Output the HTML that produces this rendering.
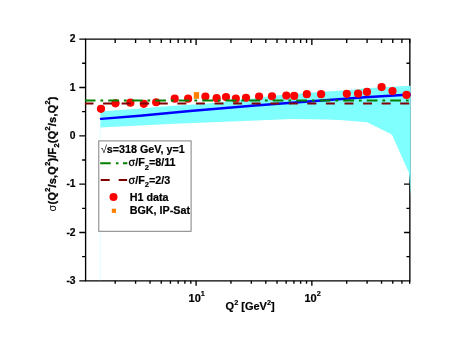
<!DOCTYPE html>
<html><head><meta charset="utf-8"><title>chart</title>
<style>html,body{margin:0;padding:0;background:#fff;}body{width:476px;height:337px;overflow:hidden;}svg{display:block;will-change:transform;}text{font-family:"Liberation Sans",sans-serif;font-weight:bold;fill:#000;stroke:#000;stroke-width:0.2px;}.sym{font-weight:normal;stroke:none;}.sym2{font-weight:normal;stroke:#000;stroke-width:0.3px;}</style>
</head><body>
<svg width="476" height="337" viewBox="0 0 476 337">
<rect x="0" y="0" width="476" height="337" fill="#ffffff"/>
<g stroke="#000" stroke-width="1.35" fill="none" stroke-linecap="butt">
<path d="M84.89999999999999 39.1H410.55M84.89999999999999 280.85H410.55M85.6 39.1V280.85M409.85 39.1V280.85"/>
<path d="M79.30 39.10H85.6M82.10 63.28H85.6M406.45 63.28H409.85M79.30 87.45H85.6M404.05 87.45H409.85M82.10 111.62H85.6M406.45 111.62H409.85M79.30 135.80H85.6M404.05 135.80H409.85M82.10 159.98H85.6M406.45 159.98H409.85M79.30 184.15H85.6M404.05 184.15H409.85M82.10 208.33H85.6M406.45 208.33H409.85M79.30 232.50H85.6M404.05 232.50H409.85M82.10 256.68H85.6M406.45 256.68H409.85M79.30 280.85H85.6M115.19 280.85V283.85M115.19 39.1V42.90M135.58 280.85V283.85M135.58 39.1V42.90M150.04 280.85V283.85M150.04 39.1V42.90M161.26 280.85V283.85M161.26 39.1V42.90M170.42 280.85V283.85M170.42 39.1V42.90M178.17 280.85V283.85M178.17 39.1V42.90M184.88 280.85V283.85M184.88 39.1V42.90M190.80 280.85V283.85M190.80 39.1V42.90M196.10 280.85V285.85M196.10 39.1V44.90M230.94 280.85V283.85M230.94 39.1V42.90M251.33 280.85V283.85M251.33 39.1V42.90M265.79 280.85V283.85M265.79 39.1V42.90M277.01 280.85V283.85M277.01 39.1V42.90M286.17 280.85V283.85M286.17 39.1V42.90M293.92 280.85V283.85M293.92 39.1V42.90M300.63 280.85V283.85M300.63 39.1V42.90M306.55 280.85V283.85M306.55 39.1V42.90M311.85 280.85V285.85M311.85 39.1V44.90M346.69 280.85V283.85M346.69 39.1V42.90M367.08 280.85V283.85M367.08 39.1V42.90M381.54 280.85V283.85M381.54 39.1V42.90M392.76 280.85V283.85M392.76 39.1V42.90M401.92 280.85V283.85M401.92 39.1V42.90M409.67 280.85V283.85M409.67 39.1V42.90"/>
</g>
<defs><clipPath id="c"><rect x="84.89999999999999" y="39.1" width="325.9" height="241.75000000000003"/></clipPath></defs>
<g clip-path="url(#c)">
<line x1="100.4" y1="127" x2="100.4" y2="280.85" stroke="#80ffff" stroke-width="1.3" opacity="0.22"/>
<polygon fill="#80ffff" points="100.4,111.4 140,108.4 170,106.0 190,104.80000000000001 220,102.5 241.3,99.60000000000001 252.5,98.4 265,97.0 278.9,95.2 299.9,93.4 310,92.7 331.3,91.2 355,89.4 365,88.30000000000001 410.8,85.80000000000001 410.8,196.4 409,172.9 391.9,134.45000000000002 367,122.2 340,120.10000000000001 325,119.4 292,119.10000000000001 250,120.80000000000001 175,123.80000000000001 100.4,127.5"/>
<polyline fill="none" stroke="#0000ff" stroke-width="2.4" stroke-linecap="round" points="101.0,118.85000000000001 140,115.7 190,111.0 255,105.5 335,99.5 365,97.3 410.8,94.5"/>
</g>
<rect x="193.8" y="92.15" width="5.3" height="6.65" fill="#ff8000"/>
<g fill="#ff0000">
<circle cx="101" cy="108.85" r="4.1"/>
<circle cx="115.5" cy="103.35" r="4.1"/>
<circle cx="130.4" cy="102.65" r="4.1"/>
<circle cx="143.8" cy="103.85" r="4.1"/>
<circle cx="156.2" cy="102.25" r="4.1"/>
<circle cx="174.7" cy="98.65" r="4.1"/>
<circle cx="188.1" cy="98.65" r="4.1"/>
<circle cx="205.4" cy="96.55" r="4.1"/>
<circle cx="216.6" cy="98.15" r="4.1"/>
<circle cx="226" cy="97.05" r="4.1"/>
<circle cx="235.8" cy="98.65" r="4.1"/>
<circle cx="246" cy="97.85" r="4.1"/>
<circle cx="259.1" cy="96.55" r="4.1"/>
<circle cx="272" cy="96.25" r="4.1"/>
<circle cx="286.3" cy="95.55" r="4.1"/>
<circle cx="294.2" cy="95.95" r="4.1"/>
<circle cx="306.8" cy="94.15" r="4.1"/>
<circle cx="321.1" cy="94.15" r="4.1"/>
<circle cx="346.8" cy="93.85" r="4.1"/>
<circle cx="358.1" cy="93.55" r="4.1"/>
<circle cx="367" cy="91.95" r="4.1"/>
<circle cx="381.6" cy="87.05" r="4.1"/>
<circle cx="392.5" cy="91.05" r="4.1"/>
<circle cx="406.5" cy="94.95" r="4.1"/>
</g>
<g clip-path="url(#c)">
<line x1="84.7" y1="100.55" x2="411" y2="100.55" stroke="#008000" stroke-width="2" stroke-dasharray="10.8 4.9 2.8 5.0"/>
<line x1="84.5" y1="103.45" x2="411" y2="103.4" stroke="#800000" stroke-width="2" stroke-dasharray="9 9.57"/>
</g>
<rect x="98.8" y="140.9" width="92.3" height="90.4" fill="#fff" stroke="#808080" stroke-width="1"/>
<text x="100.9" y="153.1" font-size="10.75"><tspan class="sym">√</tspan>s=318 GeV, y=1</text>
<line x1="100.2" y1="163.2" x2="127.3" y2="163.2" stroke="#008000" stroke-width="2" stroke-dasharray="10.5 5.2 2.6 4.5"/>
<text x="128.5" y="166.3" font-size="10.75"><tspan class="sym2">σ</tspan>/F<tspan font-size="7.6" dy="3.3">2</tspan><tspan dy="-3.3">=8/11</tspan></text>
<line x1="100.7" y1="180" x2="127.1" y2="180" stroke="#800000" stroke-width="2" stroke-dasharray="9 9"/>
<text x="128.5" y="183.6" font-size="10.75"><tspan class="sym2">σ</tspan>/F<tspan font-size="7.6" dy="3.3">2</tspan><tspan dy="-3.3">=2/3</tspan></text>
<circle cx="113.5" cy="197" r="4" fill="#ff0000"/>
<text x="129.7" y="201.2" font-size="10.75">H1 data</text>
<rect x="111.8" y="208.7" width="4.2" height="4.2" fill="#ff8000"/>
<text x="129.7" y="213.8" font-size="10.75">BGK, IP-Sat</text>
<text x="75.6" y="42.20" font-size="10.3" text-anchor="end">2</text>
<text x="75.6" y="90.55" font-size="10.3" text-anchor="end">1</text>
<text x="75.6" y="138.90" font-size="10.3" text-anchor="end">0</text>
<text x="75.6" y="187.25" font-size="10.3" text-anchor="end">-1</text>
<text x="75.6" y="235.60" font-size="10.3" text-anchor="end">-2</text>
<text x="75.6" y="283.95" font-size="10.3" text-anchor="end">-3</text>
<text x="188.6" y="301.9" font-size="11">10<tspan font-size="7.3" dy="-5.7">1</tspan></text>
<text x="304.4" y="301.9" font-size="11">10<tspan font-size="7.3" dy="-5.7">2</tspan></text>
<text id="xt" x="225.6" y="310" font-size="11">Q<tspan font-size="7.3" dy="-5">2</tspan><tspan dy="5"> [GeV</tspan><tspan font-size="7.3" dy="-5">2</tspan><tspan dy="5">]</tspan></text>
<text id="yt" transform="translate(55.8 211.5) rotate(-90)" font-size="11" letter-spacing="0.22" style="stroke-width:0.3px"><tspan class="sym">σ</tspan>(Q<tspan font-size="7.3" dy="-6">2</tspan><tspan dy="6">/s,Q</tspan><tspan font-size="7.3" dy="-6">2</tspan><tspan dy="6">)/F</tspan><tspan font-size="7.3" dy="2.8">2</tspan><tspan dy="-2.8">(Q</tspan><tspan font-size="7.3" dy="-6">2</tspan><tspan dy="6">/s,Q</tspan><tspan font-size="7.3" dy="-6">2</tspan><tspan dy="6">)</tspan></text>
</svg></body></html>
